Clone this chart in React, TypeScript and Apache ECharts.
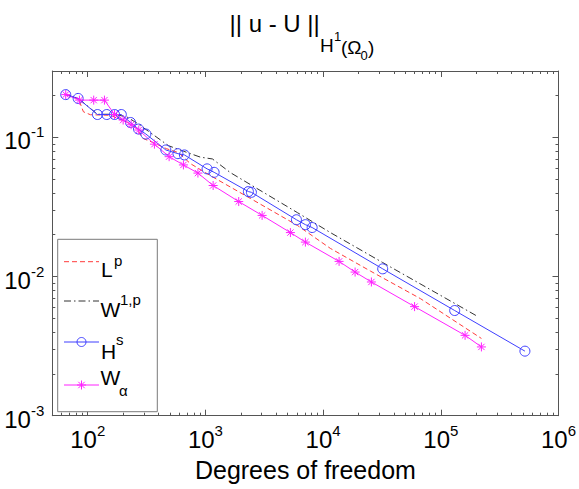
import React, { useEffect, useRef } from 'react';
import * as echarts from 'echarts';

// ---- data ----
const lpDof = [65.0, 83.4, 91.9, 105.4, 155.9, 182.3, 217.5, 264.5, 291.5, 361.5, 466.4, 589.7, 745.7, 1103, 2412, 6047, 11530, 25230, 67090, 221300];
const lpErr = [0.203, 0.1894, 0.1528, 0.1455, 0.1442, 0.1362, 0.1285, 0.1145, 0.0987, 0.0916, 0.083, 0.0777, 0.0648, 0.0531, 0.0364, 0.0233, 0.01593, 0.01095, 0.00694, 0.00359];

const w1pDof = [65.0, 83.4, 120.9, 168.6, 216.1, 262.9, 341, 484.9, 650.4, 907, 1147, 1631, 2412, 6047, 11530, 31900, 204600];
const w1pErr = [0.203, 0.1904, 0.1466, 0.1466, 0.14, 0.1264, 0.1081, 0.0872, 0.0796, 0.0721, 0.07, 0.0558, 0.0458, 0.0288, 0.0207, 0.01264, 0.00518];

const hsDof = [65.0, 82.9, 121, 145, 169, 193, 231, 270, 312, 461, 584, 663, 1033, 1186, 2318, 2459, 5935, 7074, 8070, 32080, 131200, 518500];
const hsErr = [0.203, 0.1906, 0.146, 0.146, 0.146, 0.146, 0.128, 0.1148, 0.1057, 0.0812, 0.0764, 0.0748, 0.0594, 0.0561, 0.0408, 0.0403, 0.0256, 0.0236, 0.0225, 0.01136, 0.0057, 0.00291];

const waDof = [65.0, 85.0, 112.4, 138.7, 169, 200, 233.8, 271.3, 368.7, 491.6, 650.2, 863.6, 1163, 1918, 3032, 5273, 7071, 13670, 18700, 25720, 59850, 160800, 221300];
const waErr = [0.203, 0.1853, 0.1853, 0.1853, 0.146, 0.1333, 0.1233, 0.113, 0.0894, 0.0727, 0.0634, 0.0554, 0.0451, 0.0346, 0.0275, 0.0207, 0.01768, 0.01285, 0.01077, 0.00914, 0.00608, 0.00378, 0.00312];

const xMajorTicks = [100, 1000, 10000, 100000, 1000000];
const yMajorTicks = [0.001, 0.01, 0.1];
const X_MIN = 50;
const X_MAX = 1000000;
const Y_MIN = 0.001;
const Y_MAX = 0.3;

const xMinorTicks: number[] = [];
for (let k = 1; k <= 5; k++) {
  for (let m = 2; m <= 9; m++) {
    const v = Number((m * Math.pow(10, k)).toPrecision(3));
    if (v > X_MIN && v < X_MAX) xMinorTicks.push(v);
  }
}
const yMinorTicks: number[] = [];
for (let k = -3; k <= -1; k++) {
  for (let m = 2; m <= 9; m++) {
    const v = Number((m * Math.pow(10, k)).toPrecision(3));
    if (v > Y_MIN && v < Y_MAX) yMinorTicks.push(v);
  }
}

const FONT = "'Liberation Sans', Arial, Helvetica, sans-serif";
const AX = '#555';
const RED = '#ff3b3b';
const DARK = '#333333';
const BLUE = '#3f3fff';
const MAG = '#ff22ff';
const STAR = 'path://M0,-5L0,5M-5,0L5,0M-3.5,-3.5L3.5,3.5M-3.5,3.5L3.5,-3.5';

const zip = (a: number[], b: number[]) => a.map((v, i) => [v, b[i]]);

const powLabel = (v: number) => `{b|10}{e|${Math.round(Math.log10(v))}}`;
const labelRich = {
  b: { fontSize: 24, fontFamily: FONT, color: '#000', lineHeight: 26, padding: [7, 0, 0, 0] },
  e: { fontSize: 15, fontFamily: FONT, color: '#000', lineHeight: 16, verticalAlign: 'top' },
};

function mkAxis(kind: 'x' | 'y', position: string, ticks: number[], len: number, line: boolean, labels: boolean, extra: any = {}) {
  return {
    type: 'log',
    logBase: 10,
    min: kind === 'x' ? X_MIN : Y_MIN,
    max: kind === 'x' ? X_MAX : Y_MAX,
    position,
    gridIndex: 0,
    axisLine: { show: line, lineStyle: { color: AX, width: 1 } },
    axisTick: { show: true, inside: true, length: len, customValues: ticks, lineStyle: { color: AX, width: 1 } },
    minorTick: { show: false },
    splitLine: { show: false },
    minorSplitLine: { show: false },
    axisLabel: labels
      ? { show: true, customValues: kind === 'x' ? xMajorTicks : yMajorTicks, formatter: powLabel, rich: labelRich, margin: kind === 'x' ? 7 : 8 }
      : { show: false },
    ...extra,
  };
}

const txt = (text: string, x: number, y: number, size: number) => ({
  type: 'text',
  x,
  y,
  z: 100,
  style: { text, fontSize: size, fontFamily: FONT, fill: '#000', align: 'left', verticalAlign: 'middle' },
});

function legendGraphics() {
  const x1 = 64;
  const x2 = 99;
  const cx = 81.5;
  const items: any[] = [];
  items.push({ type: 'rect', z: 90, shape: { x: 57.7, y: 239.3, width: 99.6, height: 172.4 }, style: { fill: '#fff', stroke: '#7a7a7a', lineWidth: 1 } });
  // L^p
  items.push({ type: 'line', z: 100, shape: { x1, y1: 261.7, x2, y2: 261.7 }, style: { stroke: RED, lineWidth: 1, lineDash: [5, 3] } });
  items.push(txt('L', 101, 269.5, 21));
  items.push(txt('p', 114, 260, 15));
  // W^{1,p}
  items.push({ type: 'line', z: 100, shape: { x1, y1: 301, x2, y2: 301 }, style: { stroke: DARK, lineWidth: 1, lineDash: [7, 3, 1.5, 3] } });
  items.push(txt('W', 100.5, 309.5, 21));
  items.push(txt('1,p', 120, 299.5, 15));
  // H^s
  items.push({ type: 'line', z: 100, shape: { x1, y1: 342, x2, y2: 342 }, style: { stroke: BLUE, lineWidth: 1 } });
  items.push({ type: 'circle', z: 101, shape: { cx, cy: 342, r: 4.5 }, style: { fill: 'none', stroke: BLUE, lineWidth: 1 } });
  items.push(txt('H', 101, 351, 21));
  items.push(txt('s', 116, 339, 15));
  // W_alpha
  items.push({ type: 'line', z: 100, shape: { x1, y1: 385, x2, y2: 385 }, style: { stroke: MAG, lineWidth: 1 } });
  const r = 4.5;
  const d = 3.2;
  [
    [0, -r, 0, r],
    [-r, 0, r, 0],
    [-d, -d, d, d],
    [-d, d, d, -d],
  ].forEach(([a, b, c, e]) =>
    items.push({ type: 'line', z: 101, shape: { x1: cx + a, y1: 385 + b, x2: cx + c, y2: 385 + e }, style: { stroke: MAG, lineWidth: 1 } })
  );
  items.push(txt('W', 100.5, 377.5, 21));
  items.push(txt('\u03b1', 119, 390, 15));
  return items;
}

function titleGraphics() {
  return [
    txt('|| u - U ||', 229.5, 23.5, 24),
    txt('H', 320, 45, 19),
    txt('1', 334, 36, 13),
    txt('(\u03a9', 341, 47, 19),
    txt('0', 360.5, 55.5, 13),
    txt(')', 368, 47, 19),
  ];
}

export default function App() {
  const ref = useRef<HTMLDivElement>(null);
  useEffect(() => {
    document.body.style.margin = '0';
    const chart = echarts.init(ref.current as HTMLDivElement, null, { renderer: 'svg' });
    const option: any = {
      animation: false,
      backgroundColor: '#fff',
      textStyle: { fontFamily: FONT },
      grid: { left: 52.3, right: 20.5, top: 71, bottom: 73.3, containLabel: false, outerBoundsMode: 'none' },
      xAxis: [
        mkAxis('x', 'bottom', xMajorTicks, 6, true, true, {
          name: 'Degrees of freedom',
          nameLocation: 'middle',
          nameGap: 42,
          nameTextStyle: { fontSize: 25, fontFamily: FONT, color: '#000' },
        }),
        mkAxis('x', 'bottom', xMinorTicks, 3, false, false),
        mkAxis('x', 'top', xMajorTicks, 6, true, false),
        mkAxis('x', 'top', xMinorTicks, 3, false, false),
      ],
      yAxis: [
        mkAxis('y', 'left', yMajorTicks, 6, true, true),
        mkAxis('y', 'left', yMinorTicks, 3, false, false),
        mkAxis('y', 'right', yMajorTicks, 6, true, false),
        mkAxis('y', 'right', yMinorTicks, 3, false, false),
      ],
      series: [
        {
          type: 'line',
          name: 'Lp',
          xAxisIndex: 0,
          yAxisIndex: 0,
          data: zip(lpDof, lpErr),
          symbol: 'none',
          lineStyle: { color: RED, width: 1, type: [5, 3] },
        },
        {
          type: 'line',
          name: 'W1p',
          xAxisIndex: 0,
          yAxisIndex: 0,
          data: zip(w1pDof, w1pErr),
          symbol: 'none',
          lineStyle: { color: DARK, width: 1, type: [7, 3, 1.5, 3] },
        },
        {
          type: 'line',
          name: 'Hs',
          xAxisIndex: 0,
          yAxisIndex: 0,
          data: zip(hsDof, hsErr),
          symbol: 'circle',
          symbolSize: 10,
          itemStyle: { color: 'rgba(255,255,255,0)', borderColor: BLUE, borderWidth: 1 },
          lineStyle: { color: BLUE, width: 1 },
        },
        {
          type: 'line',
          name: 'Wa',
          xAxisIndex: 0,
          yAxisIndex: 0,
          data: zip(waDof, waErr),
          symbol: STAR,
          symbolSize: 9,
          itemStyle: { color: MAG, borderColor: MAG, borderWidth: 1 },
          lineStyle: { color: MAG, width: 1 },
        },
      ],
      graphic: [...titleGraphics(), ...legendGraphics()],
    };
    chart.setOption(option);
    return () => chart.dispose();
  }, []);
  return <div ref={ref} style={{ width: 579, height: 489 }} />;
}
